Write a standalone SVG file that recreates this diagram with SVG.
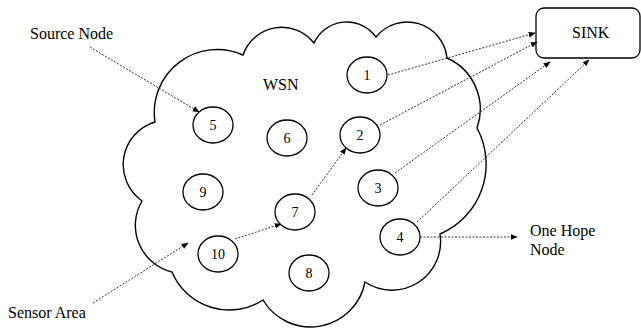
<svg xmlns="http://www.w3.org/2000/svg" width="641" height="329" viewBox="0 0 641 329">
<style>
.t{font-family:'Liberation Serif','DejaVu Serif','Times New Roman',serif;font-size:16px;fill:#000}
.n{font-family:'Liberation Serif','DejaVu Serif','Times New Roman',serif;font-size:14px;fill:#000;text-anchor:middle}
.node{fill:#fff;stroke:#000;stroke-width:1.3}
.c{fill:none;stroke:#333;stroke-width:1;stroke-dasharray:2 1.5;marker-end:url(#ah)}
</style>
<defs>
<marker id="ah" viewBox="0 0 10 10" refX="9" refY="5" markerWidth="7" markerHeight="7" markerUnits="userSpaceOnUse" orient="auto">
<path d="M0,1 L10,5 L0,9 Z" fill="#000"/>
</marker>
</defs>
<rect width="641" height="329" fill="#fff"/>
<g id="cloud">
<path d="M155,122 A63,63 0 0 1 243,55 A41,41 0 0 1 314,43 A36,36 0 0 1 376,37 A40,40 0 0 1 447,58 A56,56 0 0 1 477,128 A76,76 0 0 1 440,234 A48.6,48.6 0 0 1 365,282 A55.4,55.4 0 0 1 263,300 A62,62 0 0 1 172,272 A48,48 0 0 1 142,201 A44.5,44.5 0 0 1 155,122 Z" fill="none" stroke="#000" stroke-width="1.4"/>
<text class="t" x="263" y="90">WSN</text>
</g>
<g id="sink">
<rect x="536" y="8" width="104" height="50" rx="8" fill="#fff" stroke="#000" stroke-width="1.3"/>
<text class="t" x="572" y="38" font-size="15">SINK</text>
</g>
<g id="connectors">
<line class="c" x1="90" y1="47" x2="199" y2="112"/>
<line class="c" x1="388" y1="75" x2="535" y2="33"/>
<line class="c" x1="380" y1="125" x2="537" y2="42"/>
<line class="c" x1="395" y1="173" x2="550" y2="62"/>
<line class="c" x1="417" y1="222" x2="589" y2="60"/>
<line class="c" x1="420" y1="237" x2="517" y2="237"/>
<line class="c" x1="312" y1="195" x2="346" y2="148"/>
<line class="c" x1="235" y1="239" x2="281" y2="224"/>
<line class="c" x1="93" y1="303" x2="188" y2="243"/>
</g>
<g id="n1"><ellipse class="node" cx="367" cy="75" rx="20" ry="18"/><text class="n" x="367" y="80">1</text></g>
<g id="n2"><ellipse class="node" cx="360" cy="135" rx="20" ry="18"/><text class="n" x="360" y="140">2</text></g>
<g id="n3"><ellipse class="node" cx="378" cy="188" rx="20" ry="18"/><text class="n" x="378" y="193">3</text></g>
<g id="n4"><ellipse class="node" cx="400" cy="237" rx="20" ry="18"/><text class="n" x="400" y="242">4</text></g>
<g id="n5"><ellipse class="node" cx="213" cy="125" rx="20" ry="18"/><text class="n" x="213" y="130">5</text></g>
<g id="n6"><ellipse class="node" cx="287" cy="138" rx="20" ry="18"/><text class="n" x="287" y="143">6</text></g>
<g id="n7"><ellipse class="node" cx="295" cy="212" rx="20" ry="18"/><text class="n" x="295" y="217">7</text></g>
<g id="n8"><ellipse class="node" cx="309" cy="273" rx="20" ry="18"/><text class="n" x="309" y="278">8</text></g>
<g id="n9"><ellipse class="node" cx="203" cy="192" rx="20" ry="18"/><text class="n" x="203" y="197">9</text></g>
<g id="n10"><ellipse class="node" cx="218" cy="254" rx="20" ry="18"/><text class="n" x="218" y="259">10</text></g>
<g id="labels">
<text class="t" x="30" y="39">Source Node</text>
<text class="t" x="8" y="318">Sensor Area</text>
<text class="t" x="530" y="236">One Hope</text>
<text class="t" x="530" y="255">Node</text>
</g>
</svg>
